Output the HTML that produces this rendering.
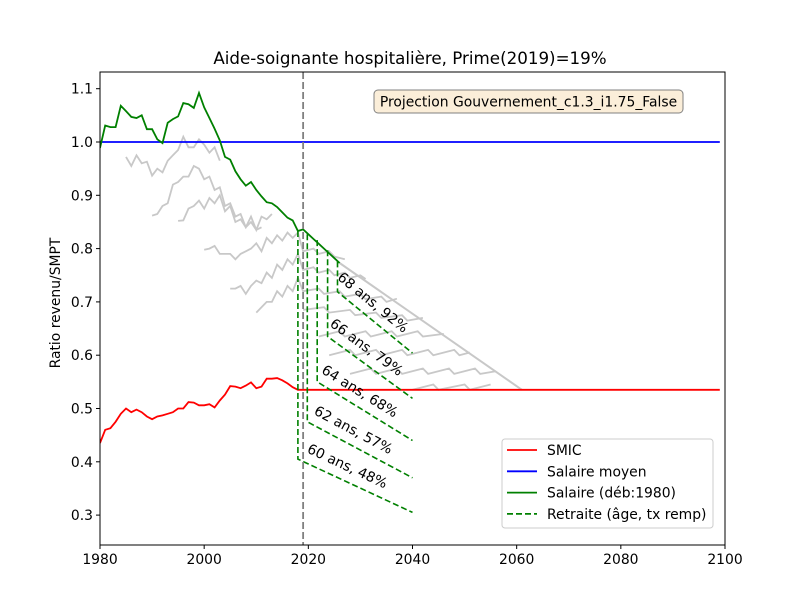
<!DOCTYPE html>
<html><head><meta charset="utf-8"><style>
body{margin:0;background:#fff}
svg text{font-family:"DejaVu Sans","Liberation Sans",sans-serif}
</style></head><body>
<svg id="chart" width="800" height="600" viewBox="0 0 800 600" xmlns="http://www.w3.org/2000/svg">
<rect x="0" y="0" width="800" height="600" fill="#fff"/>
<text x="410" y="64" text-anchor="middle" font-size="16.7">Aide-soignante hospitalière, Prime(2019)=19%</text>
<g id="plot"></g>
<text transform="translate(60,303) rotate(-90)" text-anchor="middle" font-size="13.9">Ratio revenu/SMPT</text>
</svg>
<script>
const xTicks=[1980,2000,2020,2040,2060,2080,2100];
const yTicks=[0.3,0.4,0.5,0.6,0.7,0.8,0.9,1.0,1.1];
const salaireStart=1980;
const salaire=[0.989,1.031,1.028,1.028,1.068,1.058,1.047,1.045,1.050,1.024,1.024,1.005,0.998,1.036,1.043,1.048,1.073,1.071,1.064,1.092,1.065,1.045,1.025,1.003,0.972,0.967,0.945,0.930,0.918,0.925,0.910,0.898,0.887,0.885,0.878,0.868,0.858,0.853,0.833,0.836,0.827,0.818,0.809,0.800,0.791,0.782,0.773];
const smicStart=1980;
const smic=[0.435,0.460,0.463,0.475,0.490,0.500,0.493,0.498,0.493,0.485,0.480,0.485,0.487,0.490,0.493,0.500,0.500,0.512,0.511,0.506,0.506,0.508,0.502,0.515,0.526,0.542,0.541,0.538,0.543,0.549,0.538,0.541,0.556,0.556,0.557,0.553,0.547,0.540,0.535];
const smicFlat=[[2018,0.535],[2099,0.535]];
const salaireMoyen=[[1980,1.0],[2099,1.0]];
const envelope=[[2026,0.773],[2061,0.535]];
const grayCurves=[
 [[1985,0.972],[1986,0.955],[1987,0.975],[1988,0.96],[1989,0.963],[1990,0.937],[1991,0.95],[1992,0.943],[1993,0.965],[1994,0.975],[1995,0.985],[1996,1.01],[1997,0.99],[1998,0.99],[1999,1.005],[2000,0.995],[2001,0.98],[2002,0.99],[2003,0.965]],
 [[1990,0.862],[1991,0.865],[1992,0.88],[1993,0.885],[1994,0.92],[1995,0.925],[1996,0.935],[1997,0.935],[1998,0.955],[1999,0.95],[2000,0.93],[2001,0.935],[2002,0.91],[2003,0.915],[2004,0.88],[2005,0.885],[2006,0.86],[2007,0.865],[2008,0.84],[2009,0.85],[2010,0.835],[2011,0.84]],
 [[1995,0.852],[1996,0.853],[1997,0.875],[1998,0.88],[1999,0.89],[2000,0.875],[2001,0.895],[2002,0.885],[2003,0.9],[2004,0.87],[2005,0.88],[2006,0.85],[2007,0.855],[2008,0.84],[2009,0.86],[2010,0.835],[2011,0.86],[2012,0.855],[2013,0.865]],
 [[2000,0.798],[2001,0.8],[2002,0.805],[2003,0.79],[2004,0.79],[2005,0.79],[2006,0.78],[2007,0.79],[2008,0.795],[2009,0.8],[2010,0.81],[2011,0.795],[2012,0.82],[2013,0.81],[2014,0.825],[2015,0.815],[2016,0.83],[2017,0.82],[2018,0.83],[2019,0.795],[2021,0.80],[2022,0.79],[2024,0.795],[2025,0.785],[2027,0.78]],
 [[2005,0.725],[2006,0.725],[2007,0.73],[2008,0.715],[2009,0.73],[2010,0.74],[2011,0.735],[2012,0.755],[2013,0.745],[2014,0.77],[2015,0.76],[2016,0.78],[2017,0.77],[2018,0.79],[2019,0.76],[2021,0.765],[2022,0.755],[2024,0.76],[2025,0.75],[2027,0.755],[2028,0.745],[2030,0.75],[2031,0.743]],
 [[2010,0.68],[2011,0.69],[2012,0.70],[2013,0.70],[2014,0.72],[2015,0.71],[2016,0.73],[2017,0.72],[2018,0.745],[2019,0.72],[2022,0.725],[2023,0.715],[2026,0.72],[2027,0.71],[2030,0.715],[2031,0.705],[2034,0.71],[2035,0.70],[2037,0.706]],
 [[2019,0.685],[2023,0.69],[2024,0.68],[2028,0.685],[2029,0.675],[2033,0.68],[2034,0.67],[2038,0.675],[2039,0.665],[2042,0.67]],
 [[2022,0.635],[2026,0.645],[2027,0.635],[2031,0.645],[2032,0.635],[2036,0.645],[2037,0.635],[2041,0.645],[2042,0.635],[2046,0.64]],
 [[2024,0.60],[2028,0.61],[2029,0.60],[2033,0.61],[2034,0.60],[2038,0.61],[2039,0.60],[2043,0.61],[2044,0.60],[2048,0.61],[2049,0.60],[2051,0.605]],
 [[2028,0.565],[2032,0.575],[2033,0.565],[2037,0.575],[2038,0.565],[2042,0.575],[2043,0.565],[2047,0.575],[2048,0.565],[2052,0.575],[2053,0.565],[2056,0.57]],
 [[2040,0.535],[2044,0.545],[2045,0.535],[2050,0.545],[2051,0.535],[2055,0.545]]
];
const retraiteAges=["60 ans, 48%","62 ans, 57%","64 ans, 68%","66 ans, 79%","68 ans, 92%"];
const retraiteYears=[2018,2019.8,2021.7,2023.7,2025.6];
const retraiteTop=[0.833,0.827,0.816,0.797,0.776];
const retraiteStartVal=[0.405,0.475,0.550,0.635,0.719];
const retraiteEndVal=[0.305,0.370,0.440,0.519,0.604];
const retraiteEndYear=2040;
const refYear=2019;

const X0=100,X1=725,Y0=72,Y1=545;
const xs=y=>X0+(y-1980)*(X1-X0)/120;
const ys=v=>142+(1-v)*533;
const NS="http://www.w3.org/2000/svg";
const plot=document.getElementById('plot');
function mk(tag,attrs,parent){const e=document.createElementNS(NS,tag);for(const k in attrs)e.setAttribute(k,attrs[k]);(parent||plot).appendChild(e);return e;}
function pts(arr){return arr.map(p=>xs(p[0]).toFixed(1)+','+ys(p[1]).toFixed(1)).join(' ');}
const clip=mk('clipPath',{id:'cp'});mk('rect',{x:X0,y:Y0,width:X1-X0,height:Y1-Y0},clip);
const g=mk('g',{'clip-path':'url(#cp)'});


grayCurves.forEach(c=>{const e=mk('polyline',{points:pts(c),fill:'none',stroke:'#c8c8c8','stroke-width':1.8},g);

});
let e=mk('polyline',{points:pts(envelope),fill:'none',stroke:'#c8c8c8','stroke-width':2},g);


e=mk('polyline',{points:pts(salaireMoyen),fill:'none',stroke:'#0000ff','stroke-width':1.8},g);


const smicPts=smic.map((v,i)=>[smicStart+i,v]).concat(smicFlat);
e=mk('polyline',{points:pts(smicPts),fill:'none',stroke:'#ff0000','stroke-width':1.8},g);


e=mk('polyline',{points:pts(salaire.map((v,i)=>[salaireStart+i,v])),fill:'none',stroke:'#008000','stroke-width':1.8},g);


retraiteYears.forEach((yr,i)=>{
 const p=[[yr,retraiteTop[i]],[yr,retraiteStartVal[i]],[retraiteEndYear,retraiteEndVal[i]]];
 const l=mk('polyline',{points:pts(p),fill:'none',stroke:'#008000','stroke-width':1.6,'stroke-dasharray':'6,3'},g);
 
 
 const x1=xs(yr),y1=ys(retraiteStartVal[i]),x2=xs(retraiteEndYear),y2=ys(retraiteEndVal[i]);
 const ang=Math.atan2(y2-y1,x2-x1)*180/Math.PI;
 const cx=x1+(x2-x1)*0.38+4, cy=y1+(y2-y1)*0.38-9;
 const t=mk('text',{x:cx,y:cy,'text-anchor':'middle','font-size':13.9,transform:`rotate(${ang.toFixed(1)} ${cx.toFixed(1)} ${cy.toFixed(1)})`});
 t.textContent=retraiteAges[i];
 
 
});
e=mk('line',{x1:xs(refYear),x2:xs(refYear),y1:Y0,y2:Y1,stroke:'#808080','stroke-width':1.8,'stroke-dasharray':'7,3'},g);


e=mk('rect',{x:X0,y:Y0,width:X1-X0,height:Y1-Y0,fill:'none',stroke:'#000','stroke-width':1});


xTicks.forEach(t=>{const x=xs(t);mk('line',{x1:x,x2:x,y1:Y1,y2:Y1+4,stroke:'#000'});
 const tx=mk('text',{x:x,y:Y1+19,'text-anchor':'middle','font-size':13.9});tx.textContent=t;
 
 });
yTicks.forEach(t=>{const y=ys(t);mk('line',{x1:X0-4,x2:X0,y1:y,y2:y,stroke:'#000'});
 const tx=mk('text',{x:X0-7,y:y+5,'text-anchor':'end','font-size':13.9});tx.textContent=t.toFixed(1);
 
 });
const pb=mk('rect',{x:374,y:90,width:309,height:23,rx:4,fill:'#fbeed9',stroke:'#808080','stroke-width':1});


const pt=mk('text',{x:528.5,y:106.5,'text-anchor':'middle','font-size':13.9});pt.textContent='Projection Gouvernement_c1.3_i1.75_False';


const lg=mk('g',{});


mk('rect',{x:502,y:439,width:211,height:89,rx:3,fill:'#fff','fill-opacity':0.8,stroke:'#cccccc'},lg);
const legItems=[['SMIC','#ff0000',''],['Salaire moyen','#0000ff',''],['Salaire (déb:1980)','#008000',''],['Retraite (âge, tx remp)','#008000','6,3']];
legItems.forEach((it,i)=>{const y=450+i*21.3;
 const ln=mk('line',{x1:507,x2:537,y1:y,y2:y,stroke:it[1],'stroke-width':1.8,'stroke-dasharray':it[2]||'none'},lg);
 
 
 const tx=mk('text',{x:547,y:y+5,'font-size':13.9},lg);tx.textContent=it[0];
 
 });
</script>
</body></html>
